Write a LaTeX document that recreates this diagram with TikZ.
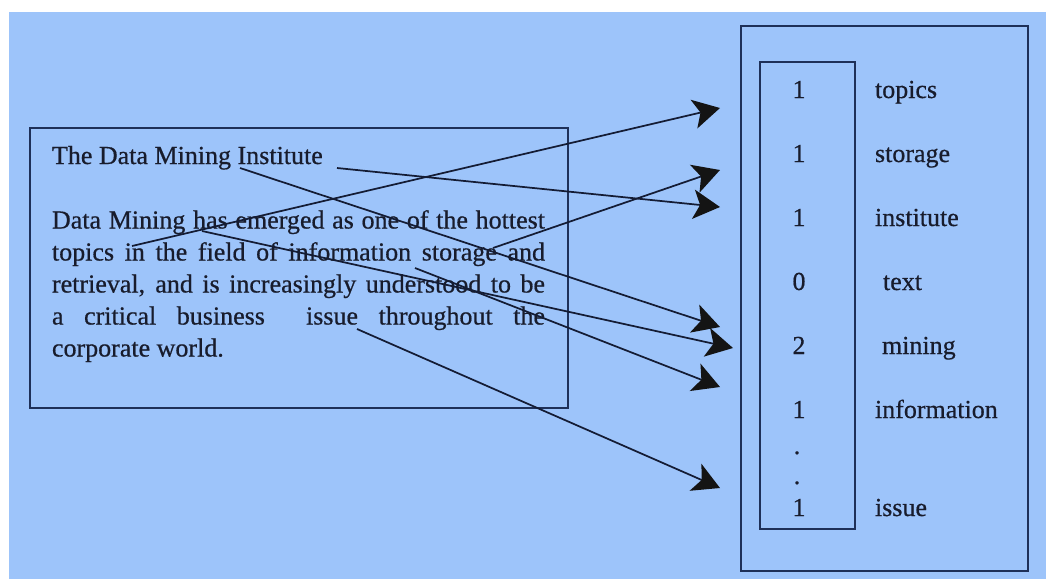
\documentclass[tikz,border=0pt]{standalone}
\usepackage{fontspec}
\setmainfont{Liberation Serif}
\newfontfamily\inkfont[FakeBold=0.6]{Liberation Serif}
\usetikzlibrary{arrows.meta}

\definecolor{bgblue}{RGB}{157,196,250}
\definecolor{inkdark}{RGB}{24,28,44}
\definecolor{framenavy}{RGB}{30,48,88}
\definecolor{arrowink}{RGB}{20,28,52}

% width of the justified lines of the paragraph
\newlength{\parw}
\setlength{\parw}{369.75pt}

\begin{document}
\begin{tikzpicture}[x=0.75pt,y=-0.75pt,
  txt/.style={inner sep=0pt, outer sep=0pt, anchor=base west, text=inkdark,
              font=\inkfont\fontsize{19.5}{23}\selectfont},
  numtxt/.style={txt, anchor=base},
  boxframe/.style={draw=framenavy, line width=1.5pt},
  innerframe/.style={draw=framenavy, line width=1.1pt},
  link/.style={draw=arrowink, line width=1.3pt,
               -{Stealth[length=20pt,width=22pt,inset=5pt,color=black!92]}}]

\useasboundingbox (0,0) rectangle (1046,579);
\fill[white] (0,0) rectangle (1046,579);
\fill[bgblue] (9,12) rectangle (1046,579);

% ---- document box ----
\draw[boxframe] (30,128) rectangle (568,408);

\node[txt] (title) at (52,164) {The Data Mining Institute};
\node[txt] (l1) at (52,228.5) {\makebox[\parw][s]{Data Mining has emerged as one of the hottest}};
\node[txt] (l2) at (52,260.5) {\makebox[\parw][s]{topics in the field of information storage and}};
\node[txt] (l3) at (52,292.5) {\makebox[\parw][s]{retrieval, and is increasingly understood to be}};
\node[txt] (l4) at (52,324.5) {\makebox[\parw][s]{a critical business\ \ issue throughout the}};
\node[txt] (l5) at (52,356.5) {corporate world.};

% ---- term vector box ----
\draw[boxframe] (741,26) rectangle (1028,571);
\draw[innerframe] (760,62) rectangle (855,529);

\node[numtxt] (n1) at (799,98)  {1};
\node[numtxt] (n2) at (799,162) {1};
\node[numtxt] (n3) at (799,226) {1};
\node[numtxt] (n4) at (799,290) {0};
\node[numtxt] (n5) at (799,354) {2};
\node[numtxt] (n6) at (799,418) {1};
\node[numtxt] (d1) at (797,454) {.};
\node[numtxt] (d2) at (797,484) {.};
\node[numtxt] (n7) at (799,516) {1};

\node[txt] (w1) at (875,98)  {topics};
\node[txt] (w2) at (875,162) {storage};
\node[txt] (w3) at (875,226) {institute};
\node[txt] (w4) at (883,290) {text};
\node[txt] (w5) at (882,354) {mining};
\node[txt] (w6) at (875,418) {information};
\node[txt] (w7) at (875,516) {issue};

% ---- word occurrences in the document ----
\coordinate (sTopics)  at (132,246);
\coordinate (sStorage) at (493,248);
\coordinate (sInst)    at (337,168);
\coordinate (sMiningT) at (240,168);
\coordinate (sMiningP) at (202,231);
\coordinate (sInfo)    at (415,268);
\coordinate (sIssue)   at (357,329);

% ---- arrow tips beside the term list ----
\coordinate (tTopics)  at (720,108);
\coordinate (tStorage) at (720,170);
\coordinate (tInst)    at (720,207);
\coordinate (tMiningT) at (720,327);
\coordinate (tMiningP) at (733,348);
\coordinate (tInfo)    at (720,387);
\coordinate (tIssue)   at (720,488);

\draw[link] (sTopics)  -- (tTopics);
\draw[link] (sStorage) -- (tStorage);
\draw[link] (sInst)    -- (tInst);
\draw[link] (sMiningT) -- (tMiningT);
\draw[link] (sMiningP) -- (tMiningP);
\draw[link] (sInfo)    -- (tInfo);
\draw[link] (sIssue)   -- (tIssue);

\end{tikzpicture}
\end{document}
